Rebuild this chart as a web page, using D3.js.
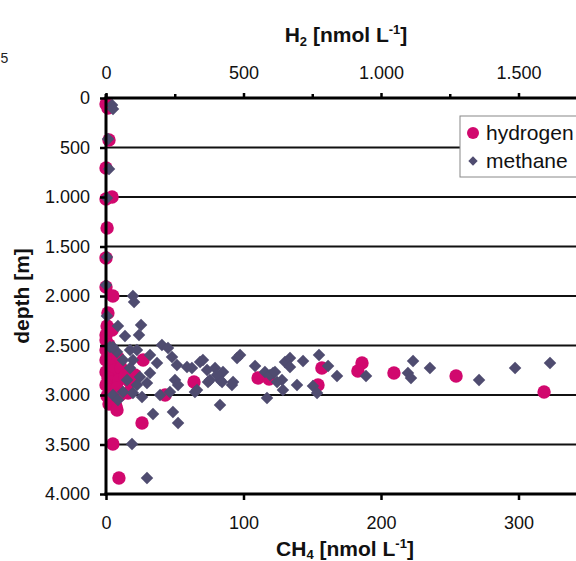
<!DOCTYPE html>
<html><head><meta charset="utf-8">
<script src="https://cdn.jsdelivr.net/npm/d3@7"></script>
<style>
html,body{margin:0;padding:0;background:#fff;}
svg{display:block;font-family:"Liberation Sans",Arial,sans-serif;}
</style></head>
<body>
<svg id="c" width="576" height="561"></svg>
<script>
// ---- data ----
const seriesNames = ["hydrogen", "methane"];
const depthTicks = [0, 500, 1000, 1500, 2000, 2500, 3000, 3500, 4000];
const ch4Ticks = [0, 100, 200, 300];
const h2Ticks = [0, 500, 1000, 1500];
const h2MinorTicks = [250, 750, 1250, 1750];

const hydrogenH2 = [0,7,11,0,0,22,4,0,0,25,7,4,0,
  11,25,0,44,15,0,33,55,7,25,47,69,0,18,40,4,25,51,80,11,36,40,0,11,22,87,105,0,
  135,215,131,25,47,320,553,593,785,771,931,916,1047,1273,1593];
const hydrogenDepth = [61,101,424,707,1020,1000,1313,1616,1909,2000,2172,2303,2394,
  2566,2596,2646,2626,2707,2768,2747,2727,2828,2869,2848,2808,2899,2949,2929,3010,3030,3000,2980,3091,3111,3152,2444,2495,2343,2869,2798,2545,
  2646,3000,3283,3495,3838,2869,2828,2838,2727,2899,2677,2758,2778,2808,2970];

const methaneCH4 = [4.4,5.1,1.5,2.2,0.7,0.7,0,19.6,20.4,0.7,8.7,25.5,13.8,24,40.7,45.1,2.9,8,17.5,22.5,
  32,48,12.4,19.6,37.1,51.6,58.9,68.4,73.5,79.3,85.1,95.3,97.5,108.4,115.6,121.5,130.2,128,17.5,24.7,
  32,15.3,22.5,29.8,50.2,52.4,46.5,39.3,5.1,12.4,19.6,26.2,64.7,82.9,117.1,128.7,74.2,82.9,92.4,34.2,
  48.7,52.4,18.9,29.8,62.5,70.5,80.7,75.6,84.4,91.6,66.2,119.3,122.9,133.8,138.9,124.4,133.8,143.3,154.9,161.5,
  168,150.5,153.5,189.1,223.3,219.6,221.8,235.6,271.3,297.5,322.9,5.1,8.7];
const methaneDepth = [71,111,414,717,1010,1606,1889,2000,2061,2202,2303,2293,2404,2394,2495,2525,2515,2566,2545,2545,
  2596,2616,2646,2646,2677,2697,2717,2667,2747,2727,2768,2626,2596,2707,2768,2778,2667,2848,2727,2818,
  2778,2848,2899,2879,2848,2899,2970,3000,3000,2970,2980,3020,2970,3101,3030,2949,2869,2848,2869,3192,
  3172,3283,3495,3838,2727,2646,2798,2848,2869,2899,2949,2798,2768,2626,2899,2869,2717,2657,2596,2707,
  2808,2909,2980,2808,2657,2778,2828,2727,2848,2727,2677,2515,3050];

// ---- setup ----
const svg = d3.select("#c");
const L = 106, T = 98, B = 494, R = 656;
const loc = d3.formatLocale({decimal: ",", thousands: ".", grouping: [3], currency: ["", "€"]});
const fmt = loc.format(",d");

const y = d3.scaleLinear().domain([0, 4000]).range([T, B]);
const xCH4 = d3.scaleLinear().domain([0, 400]).range([L, R]);
const xH2 = d3.scaleLinear().domain([0, 2000]).range([L, R]);

const pink = "#d1086e", slate = "#4f4c70";

// gridlines
svg.append("g").selectAll("line").data(depthTicks.filter(d => d > 0 && d < 4000)).join("line")
  .attr("x1", L).attr("x2", R).attr("y1", d => y(d)).attr("y2", d => y(d))
  .attr("stroke", "#111").attr("stroke-width", 2);

// hydrogen circles
svg.append("g").selectAll("circle").data(hydrogenH2.map((v, i) => [v, hydrogenDepth[i]])).join("circle")
  .attr("cx", d => xH2(d[0])).attr("cy", d => y(d[1])).attr("r", 6.7).attr("fill", pink);

// methane diamonds
const dia = d3.symbol().type(d3.symbolSquare).size(78);
svg.append("g").selectAll("path").data(methaneCH4.map((v, i) => [v, methaneDepth[i]])).join("path")
  .attr("d", dia)
  .attr("transform", d => `translate(${xCH4(d[0])},${y(d[1])}) rotate(45)`)
  .attr("fill", slate);

// axes
function styleAxis(g, size) {
  g.select(".domain").remove();
  g.selectAll(".tick line").attr("stroke", "#000").attr("stroke-width", 2.5);
  g.selectAll(".tick text").attr("font-size", size).attr("fill", "#111")
    .attr("font-family", "'Liberation Sans',Arial,sans-serif");
}
const gy = svg.append("g").attr("transform", `translate(${L},0)`)
  .call(d3.axisLeft(y).tickValues(depthTicks).tickFormat(fmt).tickSize(6).tickPadding(10));
styleAxis(gy, 18);

const gb = svg.append("g").attr("transform", `translate(0,${B})`)
  .call(d3.axisBottom(xCH4).tickValues(ch4Ticks).tickFormat(fmt).tickSize(6).tickPadding(16));
styleAxis(gb, 18);

const gt = svg.append("g").attr("transform", `translate(0,${T})`)
  .call(d3.axisTop(xH2).tickValues(h2Ticks).tickFormat(fmt).tickSize(5).tickPadding(14));
styleAxis(gt, 18);
svg.append("g").attr("transform", `translate(0,${T})`)
  .call(d3.axisTop(xH2).tickValues(h2MinorTicks).tickFormat("").tickSize(4))
  .call(g => { g.select(".domain").remove(); g.selectAll("line").attr("stroke", "#000").attr("stroke-width", 2.5); });

// axis lines
svg.append("line").attr("x1", L).attr("x2", L).attr("y1", T - 4).attr("y2", B + 1.5).attr("stroke", "#000").attr("stroke-width", 3);
svg.append("line").attr("x1", L - 1.5).attr("x2", R).attr("y1", T).attr("y2", T).attr("stroke", "#000").attr("stroke-width", 3);
svg.append("line").attr("x1", L - 1.5).attr("x2", R).attr("y1", B).attr("y2", B).attr("stroke", "#000").attr("stroke-width", 3);

// titles
function unitTitle(x, yy, base, sub, subDy) {
  const t = svg.append("text").attr("x", x).attr("y", yy).attr("text-anchor", "middle")
    .attr("font-size", 21).attr("font-weight", "bold").attr("fill", "#111");
  t.append("tspan").text(base);
  t.append("tspan").text(sub).attr("font-size", 13).attr("dy", subDy);
  t.append("tspan").text(" [nmol L").attr("dy", -subDy);
  t.append("tspan").text("-1").attr("font-size", 13).attr("dy", -8);
  t.append("tspan").text("]").attr("dy", 8);
}
unitTitle(346, 42, "H", "2", 4);
unitTitle(345, 556, "CH", "4", 2.5);

svg.append("text").attr("transform", "translate(29,296) rotate(-90)").attr("text-anchor", "middle")
  .attr("font-size", 21).attr("font-weight", "bold").attr("fill", "#111").text("depth [m]");

// stray fragment at top-left
svg.append("text").attr("x", 0.5).attr("y", 63).attr("text-anchor", "start").attr("font-size", 14).attr("fill", "#222").text("5");

// legend
const lg = svg.append("g");
lg.append("rect").attr("x", 460).attr("y", 116).attr("width", 140).attr("height", 61)
  .attr("fill", "#fff").attr("stroke", "#888").attr("stroke-width", 1);
lg.append("circle").attr("cx", 473).attr("cy", 133).attr("r", 6).attr("fill", pink);
lg.append("path").attr("d", d3.symbol().type(d3.symbolSquare).size(44))
  .attr("transform", "translate(473,161) rotate(45)").attr("fill", slate);
lg.selectAll("text.lt").data(seriesNames).join("text").attr("class", "lt")
  .attr("x", 486).attr("y", (d, i) => 140 + i * 28).attr("font-size", 21).attr("fill", "#111").text(d => d);
</script>
</body></html>
